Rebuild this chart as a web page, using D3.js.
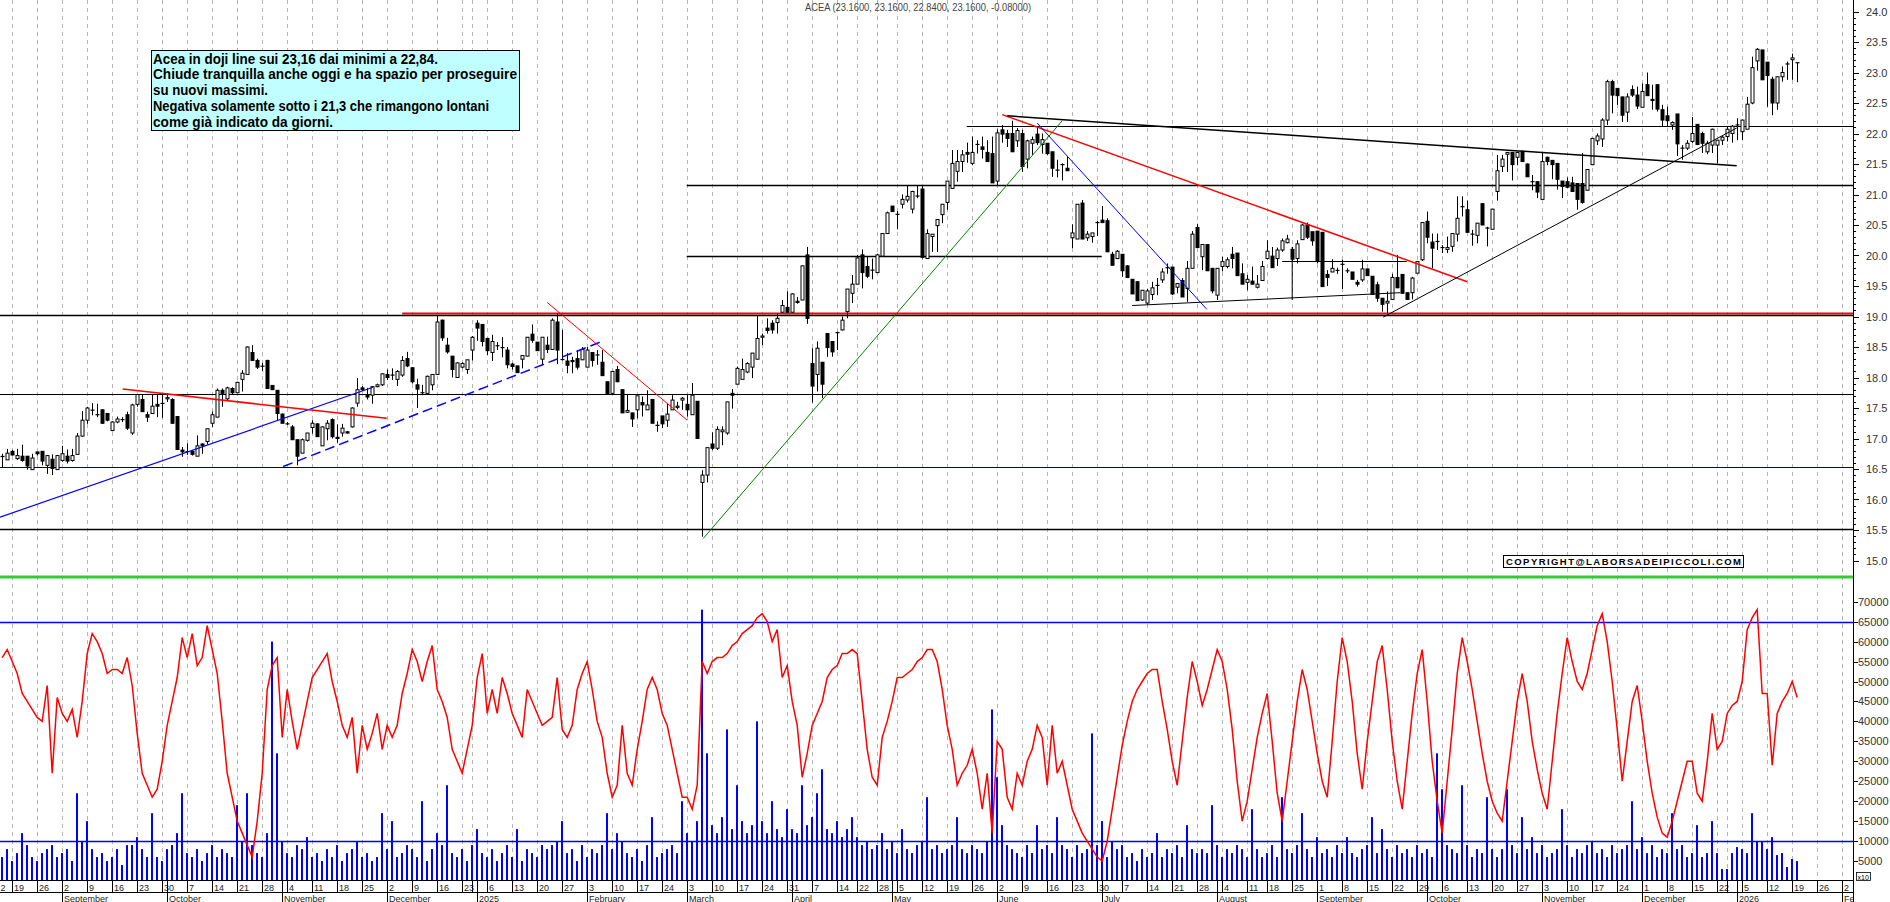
<!DOCTYPE html>
<html><head><meta charset="utf-8">
<script src="https://cdn.jsdelivr.net/npm/d3@7"></script>
<style>
html,body{margin:0;padding:0;background:#fff;}
svg{display:block;}
text{font-family:"Liberation Sans",Arial,sans-serif;}
</style></head><body>
<svg id="chart" width="1890" height="902"></svg>
<script>
// ---------------- DATA ----------------
const calendarStart = "2024-08-12";
const calendarEnd = "2026-02-06";
const dataStart = "2024-08-14";
const holidays = ["2024-08-15","2024-12-24","2024-12-25","2024-12-26","2024-12-31","2025-01-01","2025-04-18","2025-04-21","2025-05-01","2025-08-15","2025-12-24","2025-12-25","2025-12-26","2025-12-31","2026-01-01"];
const monthNames = ["January","February","March","April","May","June","July","August","September","October","November","December"];

const open = [16.71,16.65,16.79,16.67,16.71,16.71,16.49,16.78,16.79,16.56,
16.66,16.49,16.64,16.71,16.64,16.74,17.04,17.30,17.46,17.39,
17.47,17.41,17.13,17.27,17.31,17.39,17.09,17.56,17.64,17.39,
17.41,17.56,17.58,17.65,17.64,17.36,16.81,16.78,16.79,16.71,
16.91,16.95,17.25,17.35,17.79,17.65,17.82,17.75,17.97,18.05,
18.41,18.28,18.19,18.28,17.87,17.79,17.40,17.24,17.19,16.98,
16.76,16.97,17.18,17.24,16.88,17.16,17.31,17.02,17.09,17.11,
17.19,17.58,17.83,17.71,17.71,17.85,17.88,18.05,18.04,17.97,
18.04,18.31,18.16,17.88,17.75,17.74,17.88,18.05,18.94,18.53,
18.35,18.00,18.17,18.13,18.45,18.89,18.87,18.64,18.41,18.52,
18.49,18.45,18.22,18.19,18.30,18.35,18.71,18.58,18.30,18.53,
18.46,18.91,18.30,18.27,18.28,18.31,18.29,18.17,18.41,18.37,
18.25,17.93,17.74,18.13,17.80,17.43,17.42,17.47,17.59,17.47,
17.64,17.22,17.37,17.30,17.47,17.51,17.63,17.56,17.39,17.61,
16.28,16.40,16.91,16.84,17.11,17.09,17.74,17.89,17.97,18.09,
18.17,18.30,18.66,18.81,18.89,18.90,19.07,19.15,19.07,19.25,
19.27,20.01,18.23,18.05,18.25,18.72,18.59,18.73,18.78,19.08,
19.38,19.53,20.01,19.82,19.76,19.72,19.99,20.36,20.81,20.68,
20.84,20.91,20.76,20.98,21.09,19.95,20.31,20.49,20.67,20.87,
21.10,21.38,21.54,21.69,21.51,21.82,21.78,21.69,21.67,21.22,
22.06,22.00,22.00,21.88,22.00,21.58,21.84,21.99,21.82,21.84,
21.70,21.40,21.49,21.43,20.29,20.27,20.86,20.29,20.31,20.54,
20.58,20.57,20.02,19.95,20.02,19.83,19.61,19.57,19.27,19.22,
19.36,19.51,19.60,19.80,19.81,19.48,19.59,19.46,19.79,20.46,
19.98,20.18,19.79,19.35,19.82,19.82,20.02,20.04,19.70,19.56,
19.58,19.48,19.59,19.95,19.99,19.95,20.09,20.21,20.10,19.95,
20.26,20.50,20.39,20.40,20.38,19.69,19.73,19.75,19.85,19.75,
19.73,19.56,19.60,19.78,19.66,19.52,19.30,19.22,19.28,19.64,
19.69,19.39,19.39,19.71,19.93,20.56,20.22,20.23,20.13,20.10,
20.15,20.35,20.80,20.75,20.35,20.33,20.85,20.45,20.43,21.05,
21.46,21.66,21.69,21.61,21.71,21.50,21.21,21.21,20.92,21.61,
21.56,21.51,21.22,21.21,21.19,21.18,21.18,21.07,21.49,21.88,
21.91,22.22,22.85,22.74,22.60,22.35,22.72,22.63,22.43,22.80,
22.56,22.80,22.39,22.29,22.14,22.32,21.76,21.76,21.87,22.15,
22.00,21.70,21.81,21.81,21.89,21.95,22.00,22.14,22.03,22.07,
22.50,23.19,23.37,23.17,22.89,22.50,22.93,23.14,23.21,23.16];

const high = [16.75,16.83,16.81,16.83,16.90,16.71,16.75,16.78,16.79,16.73,
16.74,16.73,16.88,16.82,16.83,17.09,17.45,17.52,17.58,17.57,
17.48,17.42,17.28,17.36,17.35,17.44,17.57,17.73,17.72,17.44,
17.72,17.72,17.74,17.74,17.66,17.36,16.86,16.92,16.81,17.05,
16.92,17.16,17.44,17.82,17.82,17.85,17.84,17.93,18.12,18.51,
18.53,18.31,18.24,18.29,17.87,17.79,17.41,17.27,17.22,16.98,
17.00,17.09,17.30,17.25,17.20,17.30,17.33,17.23,17.24,17.12,
17.51,17.99,17.86,17.83,17.85,17.90,18.07,18.13,18.15,18.12,
18.35,18.42,18.16,17.98,17.88,18.03,18.05,19.02,18.95,18.65,
18.35,18.25,18.25,18.29,18.68,18.94,18.87,18.65,18.70,18.58,
18.66,18.50,18.24,18.19,18.36,18.66,18.87,18.58,18.66,18.67,
18.97,19.05,18.78,18.40,18.34,18.45,18.50,18.50,18.41,18.45,
18.45,17.93,18.10,18.19,17.80,17.73,17.42,17.70,17.69,17.79,
17.64,17.28,17.37,17.57,17.71,17.60,17.68,17.71,17.91,17.61,
16.48,16.85,17.10,17.20,17.20,17.60,17.81,18.18,18.31,18.25,
18.40,19.01,18.72,18.97,18.94,19.05,19.27,19.41,19.38,19.32,
19.84,20.14,18.48,18.59,18.25,18.72,18.59,18.75,19.00,19.45,
19.68,20.01,20.10,19.98,19.95,20.03,20.36,20.72,20.81,20.73,
21.00,21.14,21.06,21.14,21.14,20.43,20.35,20.60,20.84,21.22,
21.73,21.73,21.73,21.85,21.95,21.89,21.95,21.89,21.95,22.07,
22.14,22.06,22.21,22.09,22.06,21.90,21.95,22.10,22.00,21.84,
21.70,21.57,21.51,21.62,20.51,20.84,20.91,20.40,20.37,20.57,
20.81,20.61,20.06,20.09,20.02,19.84,19.61,19.57,19.43,19.45,
19.57,19.63,19.79,19.87,19.81,19.54,19.63,19.91,20.40,20.52,
20.18,20.18,19.79,19.79,19.98,19.97,20.14,20.04,19.87,19.68,
19.82,19.68,19.91,20.25,20.14,20.13,20.28,20.34,20.14,20.25,
20.52,20.54,20.39,20.40,20.38,19.76,19.94,19.80,19.93,19.79,
19.73,19.60,19.93,19.78,19.66,19.57,19.30,19.41,19.70,20.01,
19.69,19.39,19.65,19.90,20.54,20.72,20.36,20.36,20.17,20.31,
20.36,20.97,20.97,20.90,20.42,20.53,20.85,20.47,20.76,21.65,
21.65,21.69,21.69,21.70,21.72,21.51,21.32,21.21,21.70,21.62,
21.56,21.51,21.22,21.28,21.29,21.18,21.68,21.41,21.92,22.00,
22.25,22.88,22.88,22.74,22.60,22.66,22.79,22.77,22.82,23.00,
22.80,22.80,22.47,22.44,22.20,22.32,21.81,21.89,22.27,22.15,
22.03,21.88,22.08,21.89,21.96,22.11,22.14,22.25,22.23,22.60,
23.26,23.40,23.37,23.17,22.93,22.93,23.10,23.18,23.31,23.16];

const low = [16.53,16.65,16.72,16.65,16.62,16.49,16.49,16.72,16.56,16.42,
16.40,16.49,16.62,16.59,16.62,16.74,17.03,17.24,17.38,17.35,
17.24,17.28,17.12,17.25,17.27,17.14,17.06,17.52,17.44,17.27,
17.41,17.35,17.34,17.60,17.24,16.82,16.70,16.73,16.72,16.71,
16.75,16.90,17.19,17.35,17.52,17.63,17.72,17.75,17.77,18.05,
18.28,18.14,18.11,17.82,17.80,17.30,17.25,17.22,16.98,16.56,
16.76,16.95,17.08,17.03,16.88,16.97,17.00,16.93,17.03,17.08,
17.18,17.52,17.78,17.64,17.57,17.84,17.86,17.96,17.96,17.86,
18.01,18.17,17.90,17.50,17.71,17.73,17.79,18.05,18.60,18.39,
18.00,18.00,18.15,18.06,18.28,18.60,18.51,18.37,18.27,18.45,
18.33,18.15,18.13,18.08,18.15,18.35,18.57,18.44,18.20,18.40,
18.46,18.22,18.28,18.07,18.07,18.13,18.29,18.17,18.18,18.21,
18.03,17.73,17.74,17.93,17.42,17.42,17.19,17.33,17.36,17.47,
17.25,17.11,17.17,17.19,17.47,17.48,17.47,17.36,17.39,17.00,
15.39,16.28,16.81,16.81,16.89,17.06,17.49,17.89,17.97,18.07,
17.99,18.30,18.53,18.72,18.72,18.72,19.07,19.07,19.07,19.21,
19.27,18.88,17.59,17.77,17.66,18.34,18.34,18.45,18.77,18.97,
19.22,19.53,19.46,19.63,19.61,19.72,19.99,20.36,20.72,20.43,
20.77,20.87,20.69,20.94,19.95,19.95,20.06,20.06,20.53,20.75,
21.10,21.21,21.37,21.52,21.48,21.67,21.59,21.54,21.19,21.14,
21.85,21.78,21.70,21.78,21.37,21.43,21.65,21.81,21.67,21.65,
21.29,21.28,21.23,21.39,20.12,20.27,20.27,20.24,20.21,20.32,
20.53,20.06,19.84,19.94,19.65,19.63,19.37,19.26,19.26,19.19,
19.27,19.35,19.55,19.70,19.35,19.38,19.32,19.24,19.79,20.13,
19.76,19.75,19.38,19.27,19.74,19.79,19.79,19.67,19.53,19.43,
19.53,19.46,19.59,19.94,19.80,19.83,20.06,20.20,19.90,19.87,
20.26,20.27,20.16,19.87,19.49,19.50,19.73,19.70,19.45,19.71,
19.61,19.49,19.57,19.67,19.36,19.24,19.08,19.05,19.28,19.47,
19.38,19.28,19.28,19.71,19.91,20.20,19.79,20.09,20.04,20.04,
20.06,20.23,20.64,20.38,20.16,20.20,20.50,20.15,20.43,20.90,
21.37,21.37,21.23,21.48,21.54,21.29,21.07,20.94,20.92,21.48,
21.25,21.08,20.94,21.10,21.05,20.75,20.85,21.07,21.48,21.81,
21.78,22.14,22.33,22.47,22.19,22.19,22.60,22.40,22.43,22.62,
22.39,22.36,22.11,22.11,22.06,21.63,21.57,21.73,21.84,21.81,
21.68,21.66,21.68,21.51,21.81,21.87,21.85,21.89,21.89,22.07,
22.48,23.03,22.88,22.44,22.30,22.39,22.85,22.88,22.88,22.84];

const close = [16.70,16.76,16.73,16.72,16.64,16.55,16.68,16.75,16.63,16.72,
16.51,16.72,16.75,16.63,16.72,17.04,17.30,17.50,17.47,17.39,
17.25,17.30,17.27,17.32,17.31,17.17,17.55,17.72,17.44,17.35,
17.53,17.53,17.57,17.67,17.25,16.82,16.78,16.79,16.74,16.88,
16.88,17.16,17.39,17.79,17.74,17.83,17.75,17.92,18.07,18.50,
18.28,18.17,18.18,17.82,17.80,17.41,17.25,17.24,16.98,16.71,
16.98,17.09,17.25,17.03,17.19,17.25,17.03,17.00,17.17,17.09,
17.50,17.80,17.80,17.68,17.85,17.88,18.06,18.00,18.04,18.10,
18.28,18.19,17.93,17.81,17.75,18.02,18.05,18.91,18.65,18.42,
18.13,18.24,18.23,18.29,18.66,18.81,18.59,18.44,18.59,18.52,
18.49,18.21,18.18,18.08,18.36,18.66,18.61,18.44,18.66,18.46,
18.94,18.45,18.29,18.20,18.26,18.17,18.46,18.45,18.28,18.37,
18.03,17.73,18.10,17.93,17.42,17.46,17.32,17.70,17.55,17.55,
17.25,17.21,17.24,17.40,17.63,17.53,17.66,17.47,17.71,17.00,
16.40,16.85,16.84,17.15,17.14,17.60,17.71,18.15,18.13,18.23,
18.40,18.64,18.68,18.77,18.78,18.97,19.18,19.07,19.37,19.23,
19.83,18.97,17.86,18.48,17.89,18.49,18.42,18.74,18.94,19.45,
19.53,19.96,19.72,19.66,19.76,20.01,20.36,20.70,20.72,20.67,
20.92,20.97,21.05,20.97,19.97,20.36,20.35,20.59,20.84,21.22,
21.51,21.54,21.65,21.66,21.69,21.82,21.74,21.54,21.19,22.01,
21.99,21.92,21.70,22.05,21.46,21.88,21.90,21.85,21.90,21.67,
21.43,21.40,21.49,21.39,20.37,20.84,20.27,20.35,20.37,20.54,
20.54,20.06,19.84,20.07,19.75,19.64,19.37,19.26,19.43,19.42,
19.47,19.51,19.73,19.80,19.37,19.54,19.32,19.79,20.35,20.13,
20.18,19.75,19.42,19.79,19.90,19.93,19.95,19.67,19.53,19.61,
19.53,19.53,19.82,20.07,19.80,20.09,20.24,20.27,19.94,20.19,
20.50,20.30,20.24,19.90,19.49,19.64,19.79,19.76,19.86,19.75,
19.61,19.53,19.78,19.67,19.36,19.30,19.20,19.25,19.64,19.47,
19.38,19.28,19.63,19.90,20.54,20.30,20.12,20.23,20.13,20.13,
20.36,20.61,20.80,20.38,20.35,20.53,20.50,20.45,20.76,21.39,
21.58,21.69,21.49,21.69,21.54,21.29,21.21,21.04,21.54,21.54,
21.49,21.25,21.13,21.12,21.05,20.92,20.87,21.41,21.92,21.96,
22.22,22.85,22.63,22.62,22.30,22.60,22.63,22.45,22.69,22.62,
22.54,22.40,22.22,22.21,22.18,21.83,21.76,21.84,22.00,21.82,
21.84,21.84,22.07,21.89,21.94,22.07,22.12,22.14,22.22,22.48,
23.08,23.38,22.88,22.95,22.50,22.93,23.00,23.14,23.24,23.16];

// volume, in axis units of thousands (axis label x10)
const volume = [6,8,5,7,12,9,6,5,7,8,
9,6,7,8,5,22,10,15,8,6,
7,5,6,8,4,9,9,11,8,6,
17,6,5,8,9,12,22,7,6,8,
5,7,9,6,8,7,6,19,10,22,
9,7,6,12,60,32,10,7,6,9,
8,11,6,7,5,8,6,9,5,7,
8,10,6,7,5,6,17,8,15,6,
7,9,8,6,20,5,8,12,9,24,
7,6,8,5,9,13,7,6,8,5,
7,9,6,13,5,8,7,6,9,8,
9,10,15,7,8,5,9,6,8,7,
9,17,8,12,10,7,6,8,5,9,
16,6,7,8,9,7,20,12,10,15,
68,32,14,12,16,38,13,24,15,12,
14,40,15,12,20,13,11,18,13,12,
24,14,16,22,28,13,12,15,11,13,
16,11,9,10,8,9,12,8,10,7,
13,8,7,9,10,21,8,9,7,8,
9,16,8,7,9,8,7,10,43,26,
14,9,8,7,6,9,7,14,8,9,
7,16,9,8,6,9,7,8,37,9,
15,6,10,8,9,6,7,5,8,6,
7,12,6,8,7,9,6,14,8,7,
8,7,19,9,6,8,7,9,8,6,
18,8,6,7,9,6,21,8,7,9,
17,8,6,11,7,8,6,9,7,11,
7,6,8,9,16,7,13,8,6,9,
7,8,6,9,7,8,6,32,23,9,
8,7,24,9,6,8,7,21,8,6,
8,23,9,7,16,8,11,7,9,6,
7,8,18,9,6,8,7,9,10,7,
8,6,9,7,8,9,20,8,11,7,
9,6,8,7,17,8,9,6,7,14,
6,7,15,7,3,3,7,8.5,8,7,
17,10,10,8,11,6.5,7,3.5,5.5,5];

// red oscillator drawn in the volume panel, thousands
const oscillator = [56,58,55,52,47,45,43,41,40,49,
27,46,42,40,43,36,45,57,62,60,
57,52,53,53,52,56,49,37,27,24,
21,23,30,39,45,51,61,56,62,54,
56,64,58,52,40,27,21,15,12,9,
6,15,27,48,54,56,36,48,40,33,
39,45,51,53,55,57,50,45,39,36,
41,27,39,33,37,42,33,39,36,39,
47,52,58,55,50,55,59,48,45,41,
33,30,27,33,39,51,57,42,48,42,
51,47,42,39,36,48,45,42,39,40,
41,51,38,36,39,48,52,55,48,40,
36,27,21,24,39,27,24,33,40,48,
51,48,42,39,33,27,21,21,18,24,
55,52,55,56,56,57,59,60,62,63,
64,66,67,65,60,63,51,54,45,39,
26,32,39,42,45,51,53,54,57,57,
58,57,45,33,26,24,36,40,45,51,
51,52,53,55,56,58,58,55,48,39,
33,24,27,29,33,27,18,27,12,35,
33,21,18,27,24,30,33,39,36,24,
39,27,30,24,18,15,12,10,8,6,
5,10,18,26,34,40,45,48,50,52,
53,53,45,38,30,24,35,46,55,50,
44,48,53,58,55,48,38,25,15,20,
28,36,42,47,35,22,15,25,35,45,
53,48,40,32,25,21,35,50,61,55,
45,32,23,35,45,55,59,48,35,25,
18,30,42,52,58,45,30,20,12,25,
38,52,61,55,48,40,32,25,20,17,
15,25,35,45,52,45,35,28,22,18,
30,42,52,61,55,50,48,52,58,64,
67,60,50,38,25,35,45,49,40,30,
22,16,12,11,15,20,25,30,30,22,
20,30,42,33,35,42,44,45,50,63,
66,68,47,47,29,42,45,47,50,46];

const priceTicks = [15.0,15.5,16.0,16.5,17.0,17.5,18.0,18.5,19.0,19.5,20.0,20.5,21.0,21.5,22.0,22.5,23.0,23.5,24.0];
const volumeTicks = [5,10,15,20,25,30,35,40,45,50,55,60,65,70];
const volumeRefLevels = [65,10];

// horizontal support/resistance levels: price, from day index, to day index
const levelPrice = [22.13,21.15,19.99,19.05,19.02,17.73,16.54,15.51,19.91];
const levelFrom  = [194.9,138.9,138.9,82,-2,-2,-2,-2,258];
const levelTo    = [380,380,221.9,380,380,380,380,380,282.9];
const levelStyle = [["#000",1],["#000",1.6],["#000",1.3],["#f00",2],["#000",1.6],["#000",1],["#000080",1.2],["#000",1.6],["#000",1]];

// trend lines: day index / price at both ends
const trendK0 = [1.56,26.1,58.2,111.0,142.2,202.0,203.0,209.0,228.0,260.0,278.2];
const trendP0 = [15.71,17.81,16.54,19.23,15.36,22.31,22.29,22.17,19.18,20.14,18.99];
const trendK1 = [76.16,78.9,121.9,139.0,214.0,295.0,348.9,242.9,281.6,260.0,348.9];
const trendP1 = [17.84,17.33,18.59,17.30,22.21,19.57,21.47,19.12,19.39,19.27,22.09];
const trendStyle = [["#0000ff",1.2,null],["#ff0000",1.5,null],["#0000ff",1.5,"10,5"],["#ff0000",1,null],["#008000",1,null],["#ff0000",1.5,null],["#000",1.5,null],["#0000ff",1,null],["#000",1,null],["#000",1,null],["#000",1,null]];

const title = "ACEA (23.1600, 23.1600, 22.8400, 23.1600, -0.08000)";
const noteLines = ["Acea in doji line sui 23,16 dai minimi a 22,84.",
"Chiude tranquilla anche oggi e ha spazio per proseguire",
"su nuovi massimi.",
"Negativa solamente sotto i 21,3 che rimangono lontani",
"come già indicato da giorni."];
const noteWidths = [285,364,115,336,180];
const copyright = "COPYRIGHT@LABORSADEIPICCOLI.COM";

// ---------------- CHART ----------------
const svg = d3.select("#chart");
const AX = 1853;
const priceBottom = 577;
const volBottom = 881;

const hol = new Set(holidays);
const days = [];
{
  let d = new Date(calendarStart + "T00:00:00Z");
  const end = new Date(calendarEnd + "T00:00:00Z");
  while (d <= end) {
    const s = d.toISOString().slice(0,10), wd = d.getUTCDay();
    if (wd !== 0 && wd !== 6 && !hol.has(s)) days.push(new Date(d));
    d = new Date(d.getTime() + 86400000);
  }
}
const k0 = days.findIndex(t => t.toISOString().slice(0,10) === dataStart);

const x = d3.scaleLinear().domain([0, 1]).range([-7.8, -2.8]);
const y = d3.scaleLinear().domain([15, 24]).range([560.5, 11.5]);
const yv = d3.scaleLinear().domain([0, 70]).range([volBottom, 601.7]);
const px = k => Math.round(x(k)) + 0.5;

const defs = svg.append("defs");
defs.append("clipPath").attr("id","clipAll").append("rect").attr("x",0).attr("y",0).attr("width",AX).attr("height",volBottom);
defs.append("clipPath").attr("id","clipP").append("rect").attr("x",0).attr("y",0).attr("width",AX).attr("height",priceBottom);
defs.append("clipPath").attr("id","clipV").append("rect").attr("x",0).attr("y",priceBottom).attr("width",AX).attr("height",volBottom-priceBottom);
defs.append("clipPath").attr("id","clipX").append("rect").attr("x",0).attr("y",volBottom-2).attr("width",AX).attr("height",30);

const weekIdx = [], monthIdx = [];
days.forEach((t, i) => {
  if (i === 0 || t.getUTCDay() <= days[i-1].getUTCDay()) weekIdx.push(i);
  if (i > 0 && t.getUTCMonth() !== days[i-1].getUTCMonth()) monthIdx.push(i);
});

// grid
const gGrid = svg.append("g").attr("clip-path","url(#clipAll)");
weekIdx.forEach(i => {
  gGrid.append("line").attr("x1", px(i)).attr("x2", px(i)).attr("y1", 0).attr("y2", volBottom)
    .attr("stroke", "#b4b4b4").attr("stroke-width", 1).attr("stroke-dasharray", "4,4");
});

// levels
const gLev = svg.append("g").attr("clip-path","url(#clipP)");
levelPrice.forEach((p, j) => {
  const yy = Math.round(y(p)) + 0.5;
  gLev.append("line").attr("x1", x(levelFrom[j])).attr("x2", x(levelTo[j]))
    .attr("y1", yy).attr("y2", yy)
    .attr("stroke", levelStyle[j][0]).attr("stroke-width", levelStyle[j][1]);
});

// candles
const gC = svg.append("g").attr("clip-path","url(#clipP)");
open.forEach((o, i) => {
  const k = i + k0, cx = px(k), c = close[i];
  gC.append("line").attr("x1", cx).attr("x2", cx).attr("y1", y(high[i])).attr("y2", y(low[i]))
    .attr("stroke", "#000").attr("stroke-width", 1);
  const top = y(Math.max(o, c)), bot = y(Math.min(o, c));
  if (bot - top < 1.2) {
    gC.append("line").attr("x1", cx - 2).attr("x2", cx + 2).attr("y1", (top+bot)/2).attr("y2", (top+bot)/2)
      .attr("stroke", "#000").attr("stroke-width", 1.2);
  } else {
    gC.append("rect").attr("x", cx - 1.5).attr("y", top).attr("width", 3).attr("height", bot - top)
      .attr("fill", c >= o ? "#fff" : "#000").attr("stroke", "#000").attr("stroke-width", 1);
  }
});

// trend lines
const gT = svg.append("g").attr("clip-path","url(#clipP)");
trendK0.forEach((k, j) => {
  const l = gT.append("line").attr("x1", x(k)).attr("y1", y(trendP0[j])).attr("x2", x(trendK1[j])).attr("y2", y(trendP1[j]))
    .attr("stroke", trendStyle[j][0]).attr("stroke-width", trendStyle[j][1]);
  if (trendStyle[j][2]) l.attr("stroke-dasharray", trendStyle[j][2]);
});

// note box
const gN = svg.append("g");
gN.append("rect").attr("x", 151.5).attr("y", 50.5).attr("width", 368).attr("height", 80)
  .attr("fill", "#c0ffff").attr("stroke", "#000").attr("stroke-width", 1);
noteLines.forEach((t, j) => {
  gN.append("text").attr("x", 153).attr("y", 63.5 + j * 15.8).text(t)
    .attr("font-size", 14).attr("font-weight", "bold").attr("fill", "#000")
    .attr("textLength", noteWidths[j]).attr("lengthAdjust", "spacingAndGlyphs")
    .style("font-family", "'Liberation Sans Narrow','Arial Narrow','Liberation Sans',Arial,sans-serif");
});

// title
svg.append("text").attr("x", 805).attr("y", 11).text(title)
  .attr("font-size", 10).attr("fill", "#444").attr("textLength", 226).attr("lengthAdjust", "spacingAndGlyphs");

// copyright
svg.append("rect").attr("x", 1503.5).attr("y", 555.5).attr("width", 240).attr("height", 12)
  .attr("fill", "#fff").attr("stroke", "#000").attr("stroke-width", 1);
svg.append("text").attr("x", 1506).attr("y", 565).text(copyright)
  .attr("font-size", 9.5).attr("font-weight", "bold").attr("fill", "#000")
  .attr("textLength", 235).attr("lengthAdjust", "spacing");

// green separator
svg.append("line").attr("x1", 0).attr("x2", AX).attr("y1", priceBottom).attr("y2", priceBottom)
  .attr("stroke", "#33cc33").attr("stroke-width", 3);

// volume panel
const gV = svg.append("g").attr("clip-path","url(#clipV)");
volumeRefLevels.forEach(v => {
  const yy = Math.round(yv(v)) + 0.5;
  gV.append("line").attr("x1", 0).attr("x2", AX).attr("y1", yy).attr("y2", yy)
    .attr("stroke", "#0000ff").attr("stroke-width", 1.5);
});
volume.forEach((v, i) => {
  const k = i + k0;
  gV.append("rect").attr("x", Math.round(x(k)) - 1).attr("y", yv(v)).attr("width", 2).attr("height", yv(0) - yv(v))
    .attr("fill", "#0000ff");
});
const lineGen = d3.line().x((d, i) => x(i + k0)).y(d => yv(d));
gV.append("path").attr("d", lineGen(oscillator)).attr("fill", "none").attr("stroke", "#ff0000").attr("stroke-width", 1.5);

// right axis
const gA = svg.append("g");
gA.append("line").attr("x1", AX + 0.5).attr("x2", AX + 0.5).attr("y1", 0).attr("y2", 902).attr("stroke", "#000");
d3.range(150, 241).forEach(t => {
  const v = t / 10, major = t % 5 === 0, yy = Math.round(y(v)) + 0.5;
  gA.append("line").attr("x1", AX).attr("x2", AX + (major ? 6 : 3)).attr("y1", yy).attr("y2", yy).attr("stroke", "#000");
});
priceTicks.forEach(v => {
  gA.append("text").attr("x", 1866).attr("y", y(v) + 4).text(v.toFixed(1))
    .attr("font-size", 11).attr("fill", "#333");
});
volumeTicks.forEach(v => {
  const yy = Math.round(yv(v)) + 0.5;
  gA.append("line").attr("x1", AX).attr("x2", AX + 5).attr("y1", yy).attr("y2", yy).attr("stroke", "#000");
  gA.append("text").attr("x", 1858).attr("y", yv(v) + 4).text(d3.format("d")(v * 1000))
    .attr("font-size", 11).attr("fill", "#333");
});
gA.append("rect").attr("x", 1856.5).attr("y", 872.5).attr("width", 14).attr("height", 8).attr("fill", "#fff").attr("stroke", "#000").attr("stroke-width", 0.8);
gA.append("text").attr("x", 1857.5).attr("y", 879.5).text("x10").attr("font-size", 7).attr("fill", "#000");

// bottom date axis
const gX = svg.append("g").attr("clip-path","url(#clipX)");
gX.append("line").attr("x1", 0).attr("x2", AX).attr("y1", 880.5).attr("y2", 880.5).attr("stroke", "#000");
gX.append("line").attr("x1", 0).attr("x2", AX).attr("y1", 892.5).attr("y2", 892.5).attr("stroke", "#000");
let lastEnd = -100;
weekIdx.forEach(i => {
  const xx = px(i);
  gX.append("line").attr("x1", xx).attr("x2", xx).attr("y1", 880.5).attr("y2", 892.5).attr("stroke", "#000");
  let lx = xx + 1.5, label = String(days[i].getUTCDate());
  if (lx < 0) { label = label.slice(-1); lx = 0.5; }   // only the visible part of a label cut at the left edge
  if (lx >= lastEnd + 2) {
    const t = gX.append("text").attr("x", lx).attr("y", 890.5).text(label)
      .attr("font-size", 9).attr("fill", "#222");
    lastEnd = lx + t.node().getComputedTextLength();
  }
});
monthIdx.forEach(i => {
  const xx = px(i), m = days[i].getUTCMonth();
  gX.append("line").attr("x1", xx).attr("x2", xx).attr("y1", 880.5).attr("y2", 902).attr("stroke", "#000");
  gX.append("text").attr("x", xx + 1.5).attr("y", 901.5).text(m === 0 ? String(days[i].getUTCFullYear()) : monthNames[m])
    .attr("font-size", 9).attr("fill", "#222");
});
</script>
</body></html>
